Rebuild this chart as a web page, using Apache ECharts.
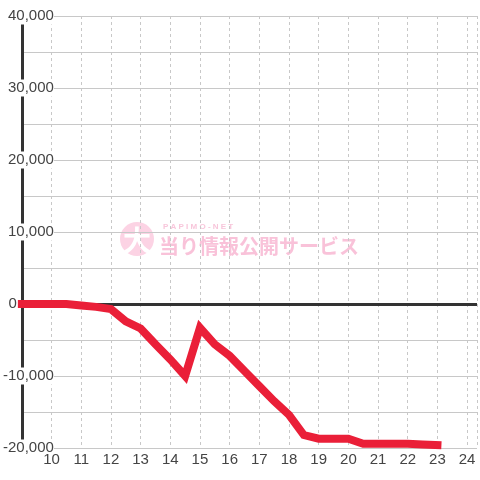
<!DOCTYPE html>
<html><head><meta charset="utf-8">
<script src="https://cdn.jsdelivr.net/npm/echarts@6/dist/echarts.min.js"></script>
<style>html,body{margin:0;padding:0;background:#fff}#c{width:480px;height:480px}</style>
</head><body><div id="c"></div>
<script>
const hours = [9, 10, 10.5, 11, 11.5, 12, 12.5, 13, 13.5, 14, 14.5, 15, 15.5, 16, 16.5, 17, 17.5, 18, 18.5, 19, 19.5, 20, 20.5, 21, 21.5, 22, 22.5, 23];
const values = [0, 0, 0, -200, -400, -700, -2400, -3400, -5600, -7700, -10000, -3300, -5600, -7200, -9300, -11400, -13500, -15400, -18200, -18700, -18700, -18700, -19400, -19400, -19400, -19400, -19500, -19600];
const xTickLabels = [10, 11, 12, 13, 14, 15, 16, 17, 18, 19, 20, 21, 22, 23, 24];
const yTickLabels = [-20000, -10000, 0, 10000, 20000, 30000, 40000];

const chart = echarts.init(document.getElementById('c'));
const fontFam = '"Liberation Sans", Arial, sans-serif';
chart.setOption({
  backgroundColor: '#fff',
  animation: false,
  grid: { left: 20, right: 0, top: 16, bottom: 32, containLabel: false },
  graphic: [
    { type: 'circle', z: -10, shape: { cx: 137, cy: 239, r: 17 }, style: { fill: '#fcd3e4' } },
    { type: 'text', z: -10, style: { x: 137, y: 240, text: '大', fill: '#fff', font: 'bold 28px "Noto Sans CJK JP"', align: 'center', verticalAlign: 'middle' } },
    { type: 'text', z: -10, style: { x: 163, y: 227, text: 'P A P I M O - N E T', fill: '#f8c6db', font: 'bold 8px ' + fontFam, align: 'left', verticalAlign: 'middle' } },
    { type: 'text', z: -10, style: { x: 159, y: 246, text: '当り情報公開サービス', fill: '#f9c2d9', font: 'bold 20px "Noto Sans CJK JP"', align: 'left', verticalAlign: 'middle' } }
  ],
  xAxis: {
    type: 'value', min: 9, max: 24.3333, interval: 1,
    axisLine: { show: false }, axisTick: { show: false },
    axisLabel: {
      color: '#444', fontSize: 15, fontFamily: fontFam, margin: 4,
      showMinLabel: true, showMaxLabel: true,
      formatter: v => (xTickLabels.indexOf(v) >= 0 ? String(v) : '')
    },
    splitLine: { show: true, lineStyle: { color: '#c8c8c8', type: [3, 3], width: 1 } }
  },
  yAxis: {
    type: 'value', min: -20000, max: 40000, interval: 5000,
    axisLine: { show: true, lineStyle: { color: '#333', width: 3 } },
    axisTick: { show: false },
    axisLabel: {
      color: '#444', fontSize: 15, fontFamily: fontFam, margin: -32,
      formatter: v => {
        if (yTickLabels.indexOf(v) < 0) return '';
        if (v === 0) return '{z|0}';
        return '{a|' + v.toLocaleString('en-US') + '}';
      },
      rich: {
        a: { color: '#444', fontSize: 15, fontFamily: fontFam, backgroundColor: '#fff', padding: [1, 0, 1, 0] },
        z: { color: '#444', fontSize: 15, fontFamily: fontFam, padding: [0, 37, 0, 0] }
      }
    },
    splitLine: { show: true, lineStyle: { color: '#c8c8c8', width: 1 } }
  },
  series: [
    {
      type: 'line', data: [], z: 1, silent: true,
      markLine: {
        silent: true, symbol: 'none', label: { show: false },
        lineStyle: { color: '#333', width: 3, type: 'solid' },
        data: [{ yAxis: 0 }]
      }
    },
    {
      type: 'line', z: 5, showSymbol: false, symbol: 'none', silent: true,
      data: hours.map((h, i) => [h, values[i]]),
      lineStyle: { color: '#ea1f38', width: 8, cap: 'square', join: 'miter' }
    }
  ]
});
</script></body></html>
